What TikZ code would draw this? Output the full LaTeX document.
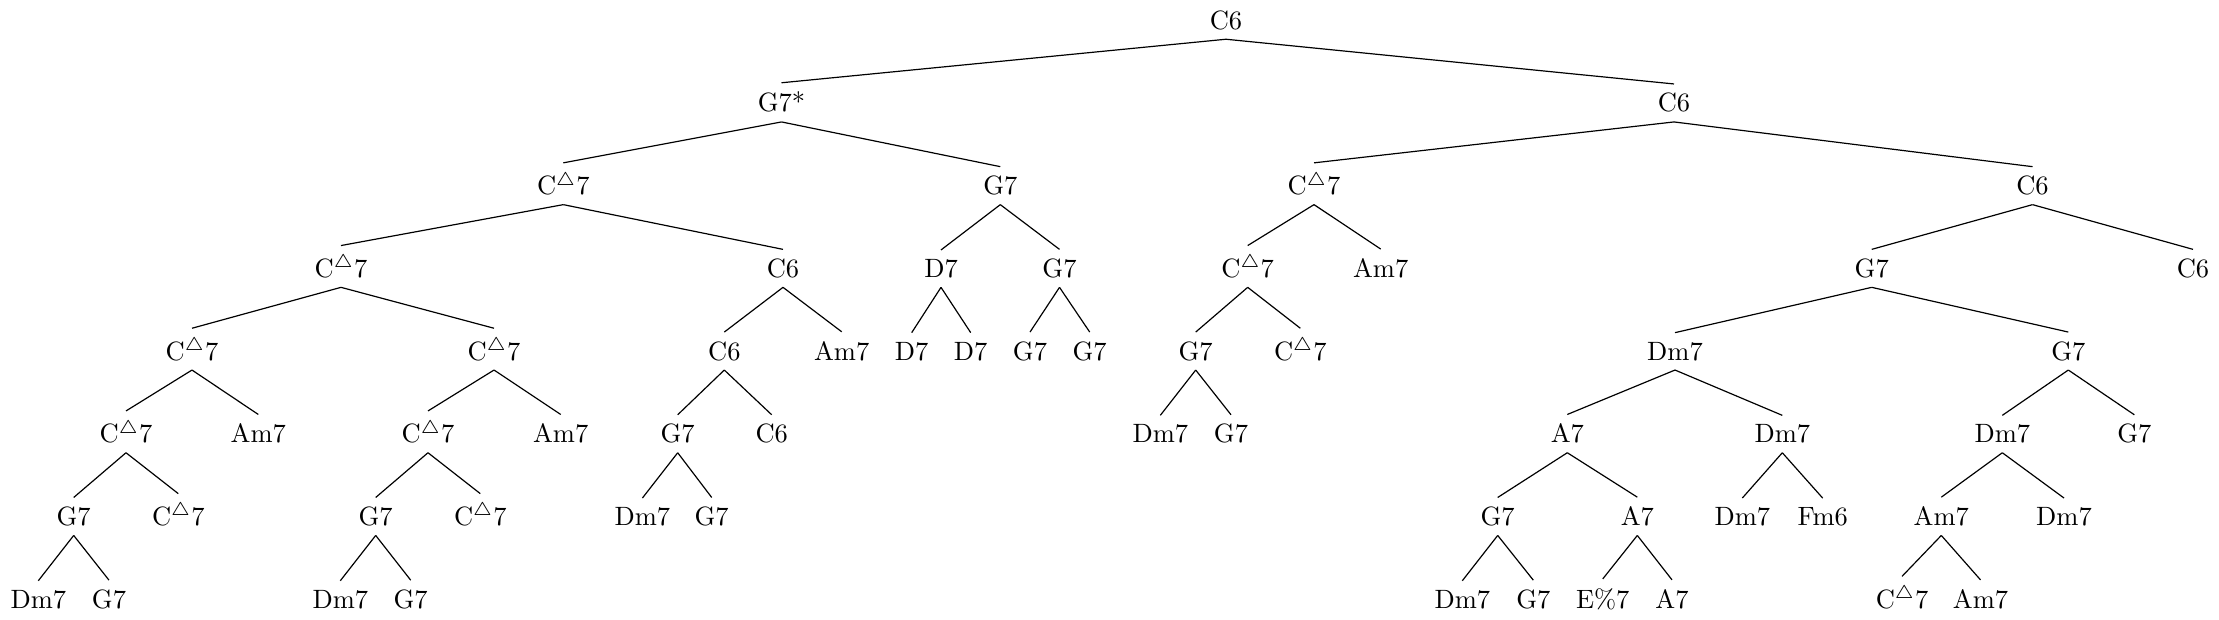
\documentclass[tikz,border=0pt]{standalone}
\newcommand\cmaj{C$^{\triangle}$7}
\begin{document}
\begin{tikzpicture}[x=0.3774pt,y=-0.3774pt,
  ch/.style={anchor=base, inner sep=0.333em},
  edge/.style={draw, line width=0.45pt}]
\useasboundingbox (0,0) rectangle (2219,620);
% level 0
\node[ch] (r) at (1226,29.3) {C6};
% level 1
\node[ch] (a) at (781.5,112) {G7*};
\node[ch] (b) at (1674,112) {C6};
% level 2
\node[ch] (aa) at (563.3,194.7) {\cmaj};
\node[ch] (ab) at (1000.3,194.7) {G7};
\node[ch] (ba) at (1314,194.7) {\cmaj};
\node[ch] (bb) at (2032.5,194.7) {C6};
% level 3
\node[ch] (aaa) at (341,277.4) {\cmaj};
\node[ch] (aab) at (783,277.4) {C6};
\node[ch] (aba) at (941,277.4) {D7};
\node[ch] (abb) at (1059.5,277.4) {G7};
\node[ch] (baa) at (1247.7,277.4) {\cmaj};
\node[ch] (bab) at (1380.7,277.4) {Am7};
\node[ch] (bba) at (1871.7,277.4) {G7};
\node[ch] (bbb) at (2193,277.4) {C6};
% level 4
\node[ch] (aaaa) at (192,360.1) {\cmaj};
\node[ch] (aaab) at (494,360.1) {\cmaj};
\node[ch] (aaba) at (724.3,360.1) {C6};
\node[ch] (aabb) at (841.7,360.1) {Am7};
\node[ch] (abaa) at (911.7,360.1) {D7};
\node[ch] (abab) at (970.7,360.1) {D7};
\node[ch] (abba) at (1030,360.1) {G7};
\node[ch] (abbb) at (1089.7,360.1) {G7};
\node[ch] (baaa) at (1195.7,360.1) {G7};
\node[ch] (baab) at (1300.3,360.1) {\cmaj};
\node[ch] (bbaa) at (1675,360.1) {Dm7};
\node[ch] (bbab) at (2068.3,360.1) {G7};
% level 5
\node[ch] (aaaaa) at (126,442.8) {\cmaj};
\node[ch] (aaaab) at (258.3,442.8) {Am7};
\node[ch] (aaaba) at (428,442.8) {\cmaj};
\node[ch] (aaabb) at (560.7,442.8) {Am7};
\node[ch] (aabaa) at (677.7,442.8) {G7};
\node[ch] (aabab) at (771.7,442.8) {C6};
\node[ch] (baaaa) at (1160.3,442.8) {Dm7};
\node[ch] (baaab) at (1231,442.8) {G7};
\node[ch] (bbaaa) at (1567.3,442.8) {A7};
\node[ch] (bbaab) at (1782.3,442.8) {Dm7};
\node[ch] (bbaba) at (2002.3,442.8) {Dm7};
\node[ch] (bbabb) at (2134.3,442.8) {G7};
% level 6
\node[ch] (aaaaaa) at (73.7,525.5) {G7};
\node[ch] (aaaaab) at (178.3,525.5) {\cmaj};
\node[ch] (aaabaa) at (375.7,525.5) {G7};
\node[ch] (aaabab) at (480.3,525.5) {\cmaj};
\node[ch] (aabaaa) at (642.4,525.5) {Dm7};
\node[ch] (aabaab) at (711.7,525.5) {G7};
\node[ch] (bbaaaa) at (1497.7,525.5) {G7};
\node[ch] (bbaaab) at (1637.3,525.5) {A7};
\node[ch] (bbaaba) at (1742.3,525.5) {Dm7};
\node[ch] (bbaabb) at (1822.7,525.5) {Fm6};
\node[ch] (bbabaa) at (1941.3,525.5) {Am7};
\node[ch] (bbabab) at (2064,525.5) {Dm7};
% level 7
\node[ch] (l1) at (38.3,608.2) {Dm7};
\node[ch] (l2) at (109,608.2) {G7};
\node[ch] (l3) at (340.3,608.2) {Dm7};
\node[ch] (l4) at (410.7,608.2) {G7};
\node[ch] (l5) at (1462.3,608.2) {Dm7};
\node[ch] (l6) at (1533.3,608.2) {G7};
\node[ch] (l7) at (1602.7,608.2) {E\%7};
\node[ch] (l8) at (1672,608.2) {A7};
\node[ch] (l9) at (1902,608.2) {\cmaj};
\node[ch] (l10) at (1980.5,608.2) {Am7};
% edges
\foreach \p/\c in {r/a,r/b,
  a/aa,a/ab,b/ba,b/bb,
  aa/aaa,aa/aab,ab/aba,ab/abb,ba/baa,ba/bab,bb/bba,bb/bbb,
  aaa/aaaa,aaa/aaab,aab/aaba,aab/aabb,aba/abaa,aba/abab,abb/abba,abb/abbb,
  baa/baaa,baa/baab,bba/bbaa,bba/bbab,
  aaaa/aaaaa,aaaa/aaaab,aaab/aaaba,aaab/aaabb,aaba/aabaa,aaba/aabab,
  baaa/baaaa,baaa/baaab,bbaa/bbaaa,bbaa/bbaab,bbab/bbaba,bbab/bbabb,
  aaaaa/aaaaaa,aaaaa/aaaaab,aaaba/aaabaa,aaaba/aaabab,aabaa/aabaaa,aabaa/aabaab,
  bbaaa/bbaaaa,bbaaa/bbaaab,bbaab/bbaaba,bbaab/bbaabb,bbaba/bbabaa,bbaba/bbabab,
  aaaaaa/l1,aaaaaa/l2,aaabaa/l3,aaabaa/l4,bbaaaa/l5,bbaaaa/l6,bbaaab/l7,bbaaab/l8,
  bbabaa/l9,bbabaa/l10}
  \draw[edge] (\p.south) -- (\c.north);
\end{tikzpicture}
\end{document}
